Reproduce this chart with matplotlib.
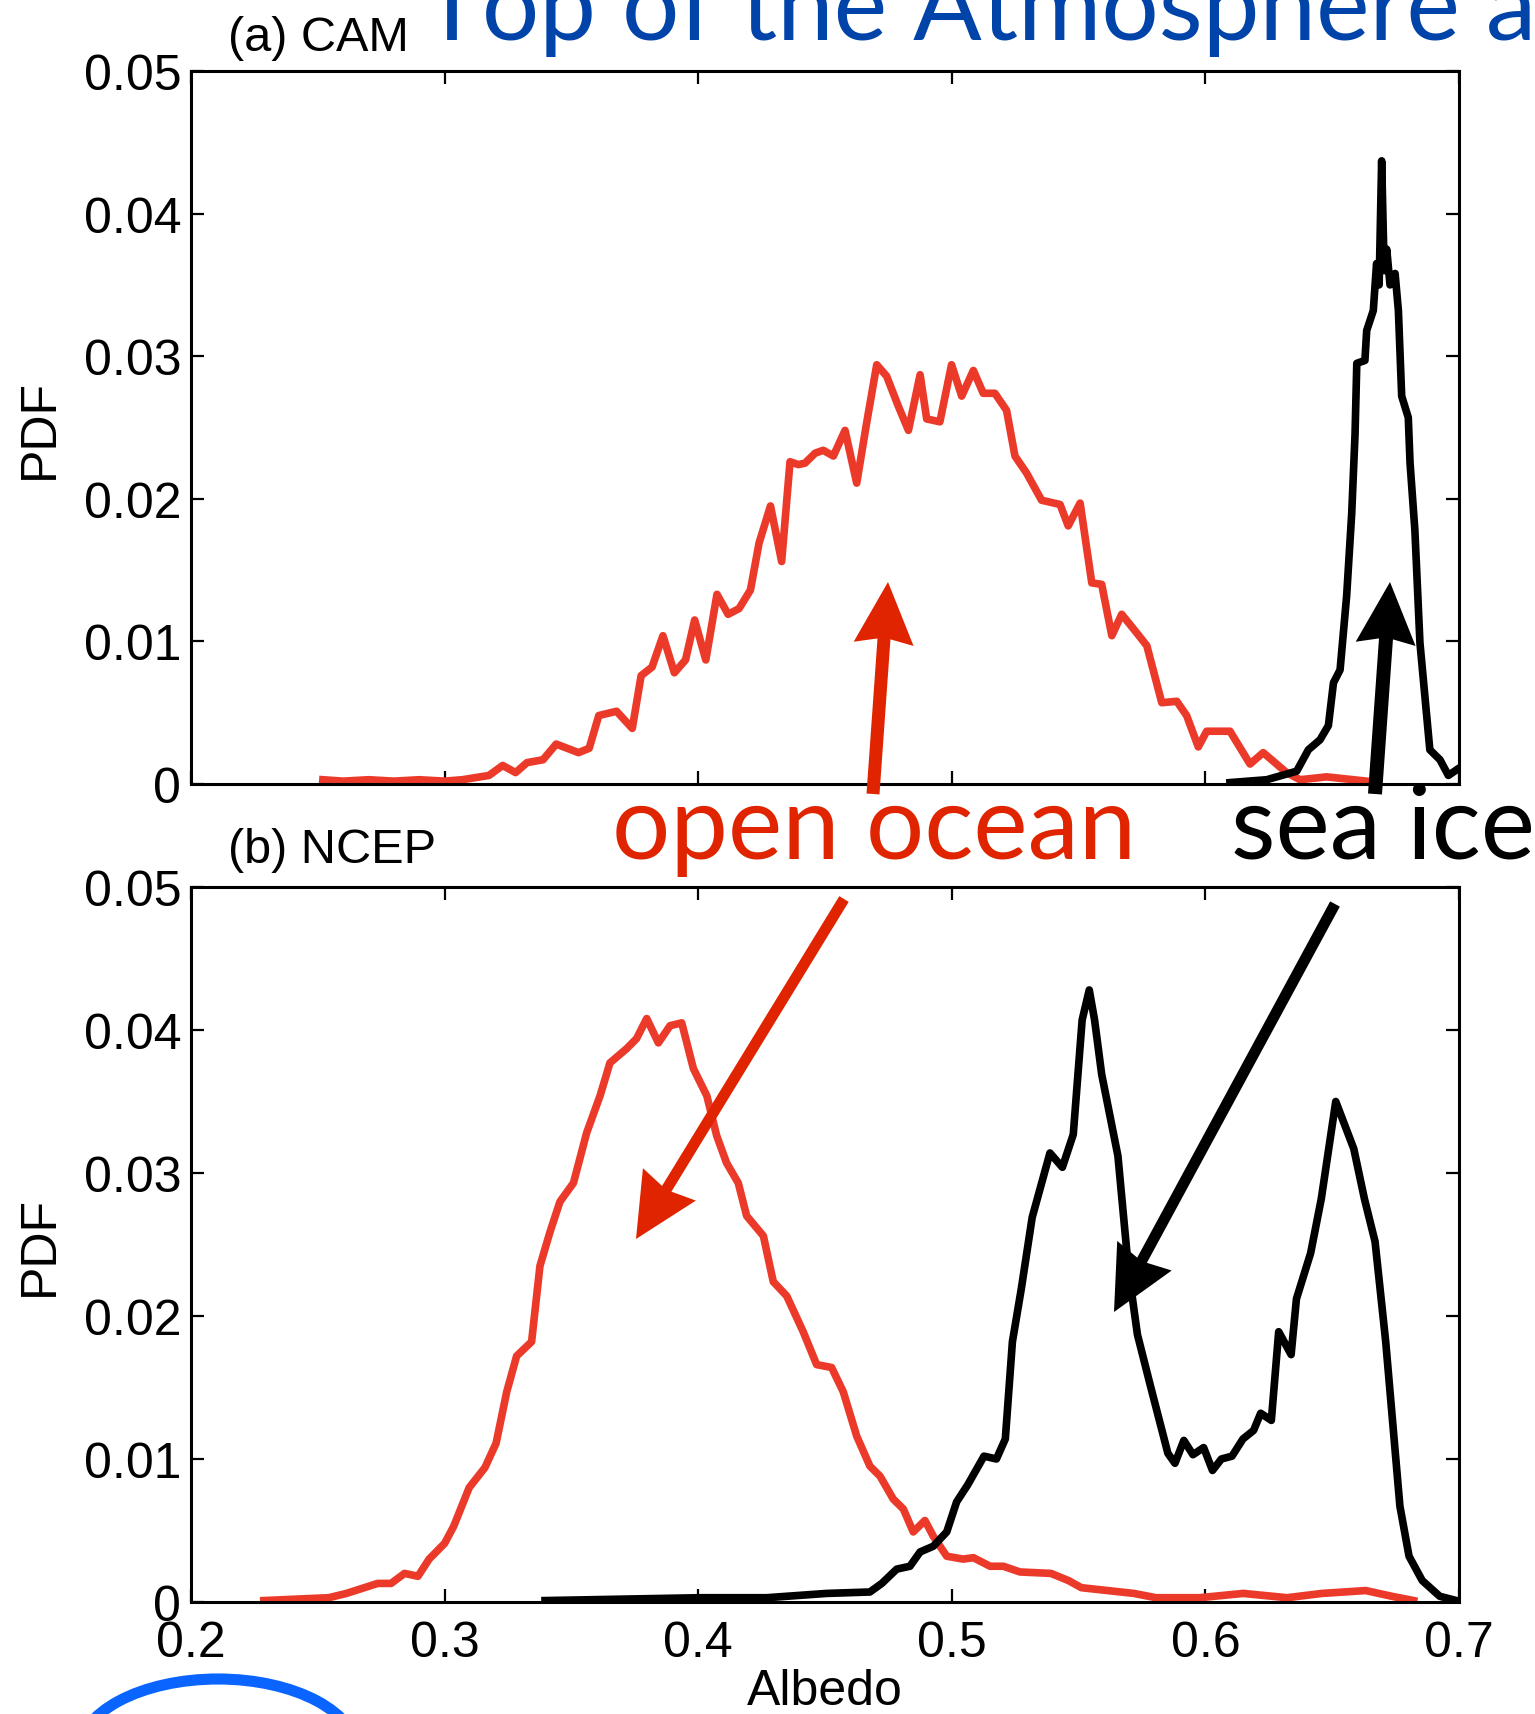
import matplotlib
matplotlib.use('Agg')
import matplotlib.pyplot as plt
from matplotlib.patches import Ellipse, FancyArrow
from matplotlib.transforms import IdentityTransform

# (a) CAM, open ocean (red) and sea ice (black)
cam_ocean_x = [
    0.252, 0.260, 0.270, 0.280, 0.290, 0.300, 0.307, 0.3175, 0.3229, 0.328,
    0.3325, 0.3388, 0.344, 0.3528, 0.357, 0.3608, 0.3678, 0.374, 0.3775, 0.3818,
    0.3861, 0.3906, 0.395, 0.3986, 0.403, 0.4074, 0.4118, 0.4161, 0.4206, 0.424,
    0.4285, 0.4329, 0.4362, 0.4395, 0.4421, 0.4461, 0.4493, 0.4533, 0.4579, 0.4625,
    0.4664, 0.4704, 0.4743, 0.4789, 0.4829, 0.4875, 0.4901, 0.4953, 0.4999, 0.5039,
    0.5085, 0.5124, 0.5170, 0.5216, 0.5249, 0.5295, 0.5354, 0.5427, 0.5459, 0.5506,
    0.5552, 0.5591, 0.5631, 0.5670, 0.5729, 0.5769, 0.5828, 0.5887, 0.5926, 0.5972,
    0.6005, 0.6097, 0.6176, 0.6228, 0.6320, 0.6373, 0.6478, 0.6636, 0.668]
cam_ocean_y = [
    0.0003, 0.0002, 0.0003, 0.0002, 0.0003, 0.0002, 0.0003, 0.0006, 0.0013, 0.0008,
    0.0015, 0.0017, 0.0028, 0.0022, 0.0025, 0.0048, 0.0051, 0.0039, 0.0076, 0.0082,
    0.0104, 0.0078, 0.0087, 0.0115, 0.0087, 0.0133, 0.0119, 0.0123, 0.0136, 0.0169,
    0.0195, 0.0156, 0.0226, 0.0224, 0.0225, 0.0232, 0.0234, 0.0230, 0.0248, 0.0211,
    0.0253, 0.0294, 0.0286, 0.0265, 0.0248, 0.0287, 0.0256, 0.0254, 0.0294, 0.0272,
    0.0290, 0.0274, 0.0274, 0.0262, 0.0230, 0.0218, 0.0199, 0.0196, 0.0181, 0.0197,
    0.0141, 0.0140, 0.0104, 0.0119, 0.0106, 0.0097, 0.0057, 0.0058, 0.0048, 0.0026,
    0.0037, 0.0037, 0.0014, 0.0022, 0.0008, 0.0003, 0.0005, 0.0002, 0.0001]

cam_ice_x = [
    0.6097, 0.6242, 0.6360, 0.6406, 0.6452, 0.6485, 0.6505, 0.6531, 0.6557, 0.6577,
    0.6590, 0.6597, 0.6629, 0.6636, 0.6662, 0.6675, 0.6685, 0.6695, 0.6705, 0.6715,
    0.6728, 0.6748, 0.6761, 0.6774, 0.6800, 0.6807, 0.6826, 0.6846, 0.6885, 0.6925,
    0.6958, 0.6991]
cam_ice_y = [
    0.0001, 0.0003, 0.0009, 0.0024, 0.0031, 0.0041, 0.0071, 0.0080, 0.0132, 0.0190,
    0.0245, 0.0295, 0.0297, 0.0318, 0.0332, 0.0365, 0.0350, 0.0437, 0.0360, 0.0375,
    0.0350, 0.0358, 0.0332, 0.0272, 0.0257, 0.0225, 0.0178, 0.0099, 0.0024, 0.0017,
    0.0006, 0.0010]

# (b) NCEP
ncep_ocean_x = [
    0.2287, 0.2543, 0.2613, 0.2736, 0.2789, 0.2842, 0.2895, 0.2939, 0.3000, 0.3036,
    0.3097, 0.3159, 0.3203, 0.3245, 0.3284, 0.3343, 0.3376, 0.3416, 0.3455, 0.3508,
    0.3560, 0.3613, 0.3652, 0.3718, 0.3757, 0.3797, 0.3843, 0.3889, 0.3935, 0.3981,
    0.4034, 0.4073, 0.4112, 0.4158, 0.4191, 0.4257, 0.4296, 0.4349, 0.4414, 0.4467,
    0.4526, 0.4572, 0.4625, 0.4677, 0.4717, 0.4769, 0.4809, 0.4848, 0.4894, 0.4927,
    0.4980, 0.5045, 0.5085, 0.5151, 0.5203, 0.5269, 0.5391, 0.5460, 0.5511, 0.5718,
    0.5805, 0.5977, 0.6149, 0.6322, 0.6460, 0.6632, 0.6735, 0.6821]
ncep_ocean_y = [
    0.0001, 0.0003, 0.0006, 0.0013, 0.0013, 0.0020, 0.0018, 0.0030, 0.0041, 0.0053,
    0.0080, 0.0094, 0.0111, 0.0147, 0.0172, 0.0182, 0.0235, 0.0259, 0.0280, 0.0293,
    0.0328, 0.0354, 0.0377, 0.0387, 0.0394, 0.0408, 0.0391, 0.0403, 0.0405, 0.0373,
    0.0354, 0.0326, 0.0307, 0.0293, 0.0270, 0.0256, 0.0224, 0.0214, 0.0189, 0.0166,
    0.0164, 0.0147, 0.0116, 0.0095, 0.0088, 0.0072, 0.0065, 0.0049, 0.0057, 0.0046,
    0.0032, 0.0030, 0.0031, 0.0025, 0.0025, 0.0021, 0.0020, 0.0015, 0.0010, 0.0006,
    0.0003, 0.0003, 0.0006, 0.0003, 0.0006, 0.0008, 0.0004, 0.0001]

ncep_ice_x = [
    0.3396, 0.4007, 0.4270, 0.4507, 0.4677, 0.4724, 0.4783, 0.4835, 0.4875, 0.4927,
    0.4980, 0.5019, 0.5063, 0.5127, 0.5176, 0.5211, 0.5239, 0.5274, 0.5317, 0.5387,
    0.5436, 0.5479, 0.5514, 0.5542, 0.5563, 0.5591, 0.5655, 0.5697, 0.5732, 0.5782,
    0.5852, 0.5880, 0.5915, 0.5951, 0.5993, 0.6028, 0.6063, 0.6105, 0.6148, 0.6190,
    0.6218, 0.6260, 0.6289, 0.6338, 0.6359, 0.6415, 0.6457, 0.6514, 0.6585, 0.6627,
    0.6669, 0.6711, 0.6767, 0.6803, 0.6855, 0.6924, 0.6990]
ncep_ice_y = [
    0.0001, 0.0003, 0.0003, 0.0006, 0.0007, 0.0013, 0.0023, 0.0025, 0.0035, 0.0039,
    0.0049, 0.0070, 0.0082, 0.0102, 0.0100, 0.0114, 0.0182, 0.0219, 0.0269, 0.0314,
    0.0304, 0.0327, 0.0407, 0.0428, 0.0407, 0.0369, 0.0312, 0.0232, 0.0187, 0.0152,
    0.0104, 0.0097, 0.0113, 0.0103, 0.0108, 0.0092, 0.0100, 0.0102, 0.0114, 0.0120,
    0.0132, 0.0127, 0.0189, 0.0173, 0.0212, 0.0244, 0.0282, 0.0350, 0.0317, 0.0282,
    0.0252, 0.0182, 0.0067, 0.0032, 0.0015, 0.0004, 0.0001]

xticks = [0.2, 0.3, 0.4, 0.5, 0.6, 0.7]
xtick_labels = ['0.2', '0.3', '0.4', '0.5', '0.6', '0.7']
yticks = [0, 0.01, 0.02, 0.03, 0.04, 0.05]
ytick_labels = ['0', '0.01', '0.02', '0.03', '0.04', '0.05']

W, H = 1535, 1715
RED_LINE = '#ec3a2a'
RED_NOTE = '#e02400'
BLUE = '#0044aa'

plt.rcParams['font.family'] = ['Liberation Sans', 'DejaVu Sans']


def style_axes(ax):
    ax.set_xlim(0.2, 0.7)
    ax.set_ylim(0, 0.05)
    ax.set_xticks(xticks)
    ax.set_xticklabels(xtick_labels)
    ax.set_yticks(yticks)
    ax.set_yticklabels(ytick_labels)
    ax.tick_params(direction='in', length=9.5, width=1.6, top=True, right=True,
                   labelsize=36)
    ax.tick_params(axis='y', pad=7)
    ax.tick_params(axis='x', pad=13)
    for spine in ax.spines.values():
        spine.set_linewidth(2.2)
    ax.set_ylabel('PDF', fontsize=36)
    ax.yaxis.set_label_coords(-0.101, 0.5)


def arrow(fig, tail, tip, color, shaft, head_w, head_len):
    # tail / tip in pixels from the top-left corner of the picture
    x0, y0 = tail[0], H - tail[1]
    x1, y1 = tip[0], H - tip[1]
    fig.add_artist(FancyArrow(x0, y0, x1 - x0, y1 - y0, width=shaft,
                              head_width=head_w, head_length=head_len,
                              length_includes_head=True, overhang=0.08,
                              transform=IdentityTransform(), color=color, lw=0))


fig = plt.figure(figsize=(W / 100, H / 100), dpi=100)
ax1 = fig.add_axes([191 / W, 1 - 785 / H, 1268 / W, 713 / H])
ax2 = fig.add_axes([191 / W, 1 - 1603 / H, 1268 / W, 715 / H])

ax1.plot(cam_ocean_x, cam_ocean_y, color=RED_LINE, lw=5.5, solid_joinstyle='round')
ax1.plot(cam_ice_x, cam_ice_y, color='black', lw=5.5, solid_joinstyle='round')
style_axes(ax1)
ax1.tick_params(labelbottom=False)
ax1.text(0.029, 1.047, '(a) CAM', transform=ax1.transAxes, fontsize=35, va='center')

ax2.plot(ncep_ocean_x, ncep_ocean_y, color=RED_LINE, lw=5.5, solid_joinstyle='round')
ax2.plot(ncep_ice_x, ncep_ice_y, color='black', lw=5.5, solid_joinstyle='round')
style_axes(ax2)
ax2.set_xlabel('Albedo', fontsize=36)
ax2.xaxis.set_label_coords(0.5, -0.092)
ax2.text(0.029, 1.052, '(b) NCEP', transform=ax2.transAxes, fontsize=35, va='center')

# slide annotations
fig.text(422 / W, 1 - 40 / H, 'Top of the Atmosphere a', color=BLUE, fontsize=73,
         family='Lato', va='baseline')
fig.text(612 / W, 1 - 859 / H, 'open ocean', color=RED_NOTE, fontsize=74,
         family='Lato', va='baseline')
fig.text(1231 / W, 1 - 859 / H, 'sea ice', color='black', fontsize=74,
         family='Lato', va='baseline')

arrow(fig, (873, 795), (888, 583), RED_NOTE, 13, 60, 62)
arrow(fig, (1375, 795), (1390, 583), 'black', 14, 60, 62)
arrow(fig, (844, 900), (636, 1240), RED_NOTE, 11, 62, 64)
arrow(fig, (1335, 905), (1114, 1313), 'black', 11, 62, 64)

fig.add_artist(Ellipse((218 / W, -40 / H), 280 / W, 150 / H, transform=fig.transFigure,
                       fill=False, edgecolor='#0a64ff', lw=8))

fig.savefig('out.png', dpi=100)
